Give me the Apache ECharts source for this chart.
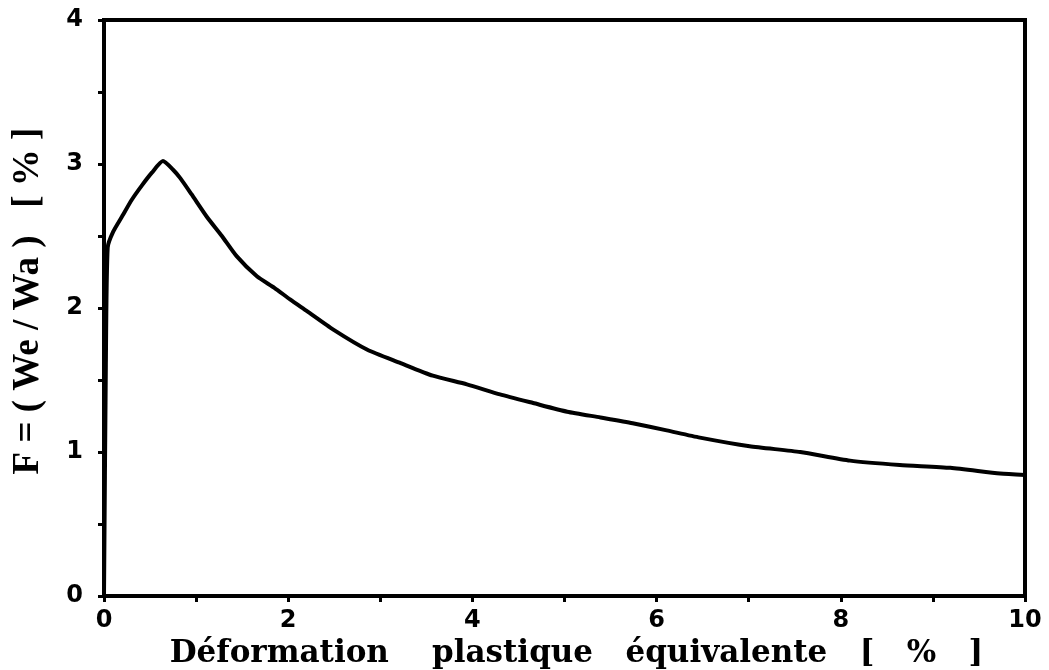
<!DOCTYPE html>
<html>
<head>
<meta charset="utf-8">
<script src="https://cdn.jsdelivr.net/npm/echarts@6/dist/echarts.min.js"></script>
<style>
  html, body { margin: 0; padding: 0; background: #fff; }
  #chart { width: 1049px; height: 670px; }
</style>
</head>
<body>
<div id="chart"></div>
<script>
// déformation plastique équivalente [%]
var strain = [0, 0.02, 0.04, 0.1, 0.2, 0.3, 0.41, 0.52, 0.64, 0.75, 0.83, 0.95, 1.12, 1.28, 1.44, 1.66, 1.85, 2.02, 2.2, 2.49, 2.86, 3.21, 3.57, 3.94, 4.30, 4.66, 5.03, 5.39, 5.74, 6.11, 6.47, 7.01, 7.56, 8.10, 8.64, 9.19, 9.73, 10.0]
// F = We / Wa [%]
var ratioF = [0, 1.6, 2.42, 2.53, 2.64, 2.75, 2.85, 2.94, 3.02, 2.96, 2.90, 2.79, 2.63, 2.50, 2.36, 2.22, 2.14, 2.06, 1.98, 1.85, 1.71, 1.62, 1.53, 1.47, 1.40, 1.34, 1.28, 1.24, 1.20, 1.15, 1.10, 1.04, 1.00, 0.94, 0.91, 0.89, 0.85, 0.84]

var xTitle = 'Déformation    plastique   équivalente   [   %   ]'
var yTitle = 'F = ( We / Wa )   [ % ]'

var chart = echarts.init(document.getElementById('chart'))

var points = strain.map(function (x, i) { return [x, ratioF[i]] })

var tickFont = {
  color: '#000',
  fontFamily: 'DejaVu Sans',
  fontWeight: 'bold',
  fontSize: 24
}
var tickLine = { color: '#000', width: 3 }

var option = {
  backgroundColor: '#fff',
  animation: false,
  grid: {
    left: 104,
    right: 24,
    top: 20,
    bottom: 74,
    outerBoundsMode: 'none',
    show: true,
    borderColor: '#000',
    borderWidth: 4
  },
  xAxis: {
    type: 'value',
    min: 0,
    max: 10,
    interval: 2,
    name: xTitle,
    nameLocation: 'middle',
    nameGap: 42,
    nameTextStyle: {
      color: '#000',
      fontFamily: 'DejaVu Serif',
      fontWeight: 'bold',
      fontSize: 31,
      padding: [0, 0, 0, 24]
    },
    axisLine: { show: true, lineStyle: { color: '#000', width: 4 } },
    axisTick: { show: true, inside: false, length: 6, lineStyle: tickLine },
    minorTick: { show: true, splitNumber: 2, length: 6, lineStyle: tickLine },
    axisLabel: Object.assign({ margin: 13 }, tickFont),
    splitLine: { show: false }
  },
  yAxis: {
    type: 'value',
    min: 0,
    max: 4,
    interval: 1,
    name: yTitle,
    nameLocation: 'middle',
    nameGap: 57,
    nameTextStyle: {
      color: '#000',
      fontFamily: 'Liberation Serif',
      fontWeight: 'bold',
      fontSize: 37,
      padding: [0, 0, 0, 14]
    },
    axisLine: { show: true, lineStyle: { color: '#000', width: 4 } },
    axisTick: { show: true, inside: false, length: 6, lineStyle: tickLine },
    minorTick: { show: true, splitNumber: 2, length: 6, lineStyle: tickLine },
    axisLabel: Object.assign({ margin: 21 }, tickFont),
    splitLine: { show: false }
  },
  series: [{
    type: 'line',
    data: points,
    showSymbol: false,
    smooth: 0.2,
    lineStyle: { color: '#000', width: 4 }
  }]
}

chart.setOption(option)
</script>
</body>
</html>
